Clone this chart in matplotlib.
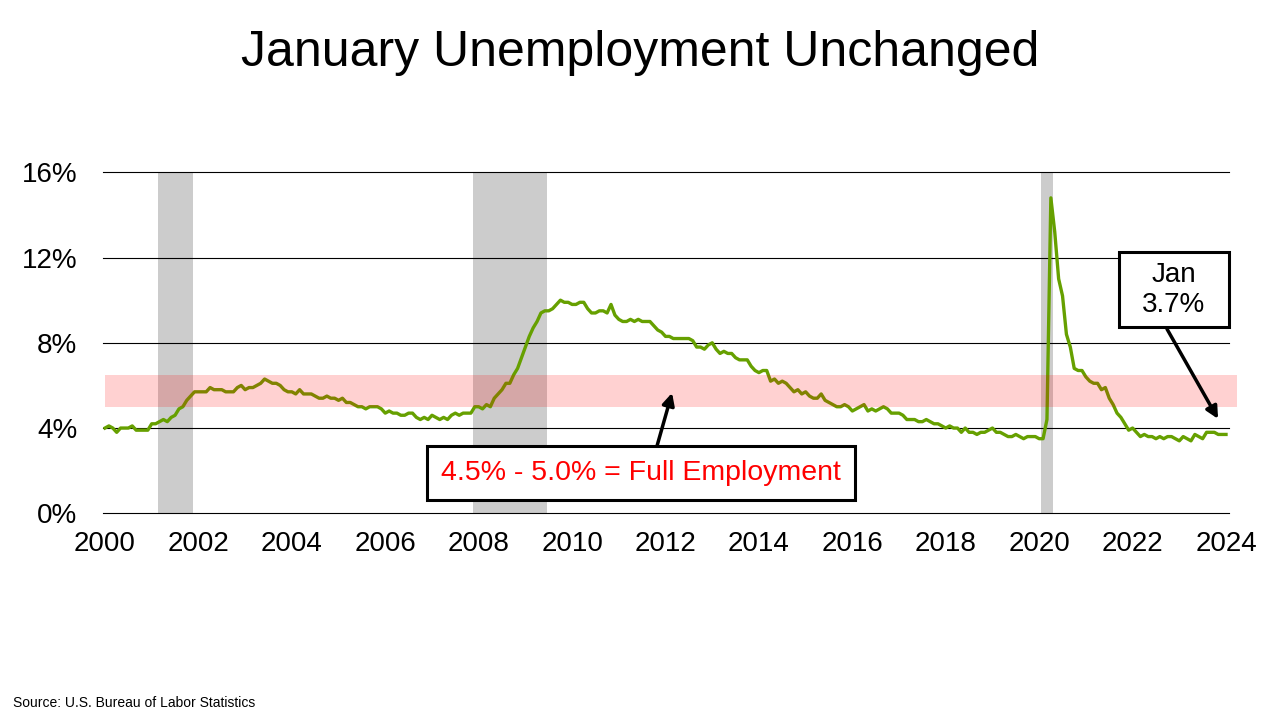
import matplotlib
matplotlib.use("Agg")
import matplotlib.pyplot as plt
import numpy as np

plt.rcParams['font.family'] = ['Liberation Sans', 'DejaVu Sans']

# ---- data: monthly US unemployment rate (%), Jan 2000 .. Jan 2024 ----
start_year = 2000
unemployment = [
    4.0, 4.1, 4.0, 3.8, 4.0, 4.0, 4.0, 4.1, 3.9, 3.9, 3.9, 3.9,   # 2000
    4.2, 4.2, 4.3, 4.4, 4.3, 4.5, 4.6, 4.9, 5.0, 5.3, 5.5, 5.7,   # 2001
    5.7, 5.7, 5.7, 5.9, 5.8, 5.8, 5.8, 5.7, 5.7, 5.7, 5.9, 6.0,   # 2002
    5.8, 5.9, 5.9, 6.0, 6.1, 6.3, 6.2, 6.1, 6.1, 6.0, 5.8, 5.7,   # 2003
    5.7, 5.6, 5.8, 5.6, 5.6, 5.6, 5.5, 5.4, 5.4, 5.5, 5.4, 5.4,   # 2004
    5.3, 5.4, 5.2, 5.2, 5.1, 5.0, 5.0, 4.9, 5.0, 5.0, 5.0, 4.9,   # 2005
    4.7, 4.8, 4.7, 4.7, 4.6, 4.6, 4.7, 4.7, 4.5, 4.4, 4.5, 4.4,   # 2006
    4.6, 4.5, 4.4, 4.5, 4.4, 4.6, 4.7, 4.6, 4.7, 4.7, 4.7, 5.0,   # 2007
    5.0, 4.9, 5.1, 5.0, 5.4, 5.6, 5.8, 6.1, 6.1, 6.5, 6.8, 7.3,   # 2008
    7.8, 8.3, 8.7, 9.0, 9.4, 9.5, 9.5, 9.6, 9.8, 10.0, 9.9, 9.9,  # 2009
    9.8, 9.8, 9.9, 9.9, 9.6, 9.4, 9.4, 9.5, 9.5, 9.4, 9.8, 9.3,   # 2010
    9.1, 9.0, 9.0, 9.1, 9.0, 9.1, 9.0, 9.0, 9.0, 8.8, 8.6, 8.5,   # 2011
    8.3, 8.3, 8.2, 8.2, 8.2, 8.2, 8.2, 8.1, 7.8, 7.8, 7.7, 7.9,   # 2012
    8.0, 7.7, 7.5, 7.6, 7.5, 7.5, 7.3, 7.2, 7.2, 7.2, 6.9, 6.7,   # 2013
    6.6, 6.7, 6.7, 6.2, 6.3, 6.1, 6.2, 6.1, 5.9, 5.7, 5.8, 5.6,   # 2014
    5.7, 5.5, 5.4, 5.4, 5.6, 5.3, 5.2, 5.1, 5.0, 5.0, 5.1, 5.0,   # 2015
    4.8, 4.9, 5.0, 5.1, 4.8, 4.9, 4.8, 4.9, 5.0, 4.9, 4.7, 4.7,   # 2016
    4.7, 4.6, 4.4, 4.4, 4.4, 4.3, 4.3, 4.4, 4.3, 4.2, 4.2, 4.1,   # 2017
    4.0, 4.1, 4.0, 4.0, 3.8, 4.0, 3.8, 3.8, 3.7, 3.8, 3.8, 3.9,   # 2018
    4.0, 3.8, 3.8, 3.7, 3.6, 3.6, 3.7, 3.6, 3.5, 3.6, 3.6, 3.6,   # 2019
    3.5, 3.5, 4.4, 14.8, 13.2, 11.0, 10.2, 8.4, 7.8, 6.8, 6.7, 6.7,  # 2020
    6.4, 6.2, 6.1, 6.1, 5.8, 5.9, 5.4, 5.1, 4.7, 4.5, 4.2, 3.9,   # 2021
    4.0, 3.8, 3.6, 3.7, 3.6, 3.6, 3.5, 3.6, 3.5, 3.6, 3.6, 3.5,   # 2022
    3.4, 3.6, 3.5, 3.4, 3.7, 3.6, 3.5, 3.8, 3.8, 3.8, 3.7, 3.7,   # 2023
    3.7,                                                          # 2024
]
# recessions (first month, last month)
recessions = [((2001, 3), (2001, 11)), ((2007, 12), (2009, 6)), ((2020, 2), (2020, 4))]
band_low, band_high = 5.0, 6.5
y_ticks = [0, 4, 8, 12, 16]
y_tick_labels = ["0%", "4%", "8%", "12%", "16%"]
x_ticks = list(range(2000, 2025, 2))

title = "January Unemployment Unchanged"
band_label = "4.5% - 5.0% = Full Employment"
latest_label = "Jan\n3.7%"
source = "Source: U.S. Bureau of Labor Statistics"

# ---- figure ----
W, H = 1280, 720
fig = plt.figure(figsize=(12.8, 7.2), dpi=100)
ax = fig.add_axes([103 / W, 1 - 513.3 / H, (1229 - 103) / W, (513.3 - 172.3) / H])

x = start_year + np.arange(len(unemployment)) / 12.0

for (y0, m0), (y1, m1) in recessions:
    xs = y0 + (m0 - 1) / 12 - 0.5 / 12
    xe = y1 + (m1 - 1) / 12 + 0.5 / 12
    ax.axvspan(xs, xe, color="#CCCCCC", lw=0, zorder=1)

ax.plot(x, unemployment, color="#66A000", lw=2.4, zorder=2, solid_joinstyle="round")

ax.fill_between([2000, 2024.23], band_low, band_high, color="red", alpha=0.18,
                lw=0, zorder=3, clip_on=False)

ax.set_xlim(1999.957, 2024.064)
ax.set_ylim(0, 16)
ax.set_yticks(y_ticks)
ax.set_yticklabels(y_tick_labels)
ax.set_xticks(x_ticks)
ax.set_xticklabels([str(v) for v in x_ticks])
ax.tick_params(axis="both", length=0, labelsize=20, colors="black")
ax.tick_params(axis="y", pad=18.5)
ax.tick_params(axis="x", pad=13)
ax.yaxis.grid(True, color="black", lw=0.8)
ax.set_axisbelow("line")
for gl in ax.get_ygridlines():
    gl.set_clip_on(False)
for s in ax.spines.values():
    s.set_visible(False)

# title and source
fig.text(0.5, 1 - 66 / H, title, ha="center", va="baseline", fontsize=36)
fig.text(13 / W, 1 - 707 / H, source, ha="left", va="baseline", fontsize=10)

# annotation boxes (figure pixel layout)
def box(x0, y0, x1, y1):
    r = plt.Rectangle((x0 / W, 1 - y1 / H), (x1 - x0) / W, (y1 - y0) / H,
                      transform=fig.transFigure, facecolor="white",
                      edgecolor="black", lw=2.2, zorder=5)
    fig.add_artist(r)

box(427, 446, 855, 500)
fig.text(641 / W, 1 - 473 / H, band_label, ha="center", va="center",
         fontsize=20.5, color="#FF0000", zorder=6)

box(1119, 252, 1229, 327)
fig.text(1174 / W, 1 - 290 / H, latest_label, ha="center", va="center",
         fontsize=20, color="black", linespacing=1.25, zorder=6)

arrow = dict(arrowstyle="-|>", color="black", lw=2.5, mutation_scale=18,
             shrinkA=0, shrinkB=0)
ax.annotate("", xy=(2012.14, 5.65), xycoords="data",
            xytext=(657, H - 446), textcoords="figure pixels",
            arrowprops=arrow, zorder=7)
ax.annotate("", xy=(2023.83, 4.43), xycoords="data",
            xytext=(1167, H - 329), textcoords="figure pixels",
            arrowprops=arrow, zorder=7)

fig.savefig("out.png", dpi=100)
